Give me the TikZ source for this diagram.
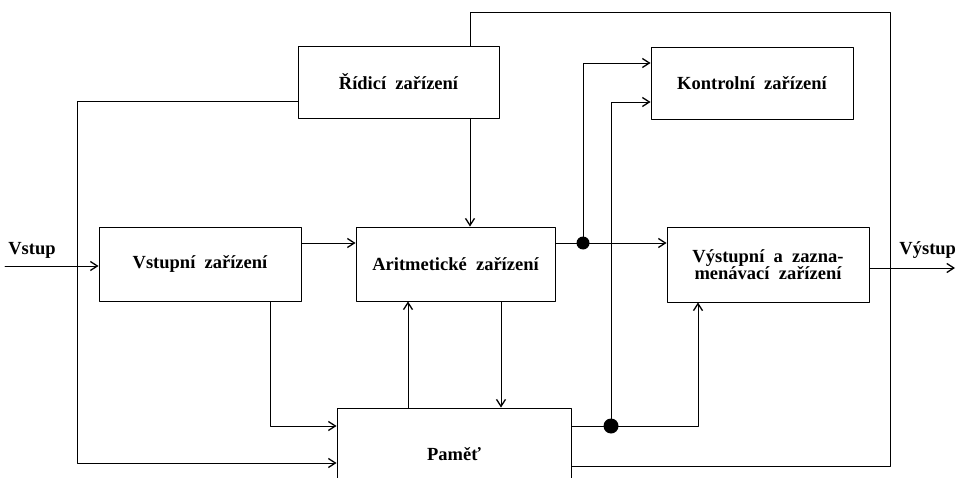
\documentclass[tikz,border=0pt]{standalone}
\usepackage{fontspec}
\setmainfont{Liberation Serif}
\usetikzlibrary{arrows.meta}
\newcommand\blokpismo{\fontsize{18.5}{20}\selectfont\bfseries\spaceskip 0.5em\relax}

\begin{document}
\begin{tikzpicture}[line cap=round,line join=round,x=1pt,y=-1pt,line width=0.9pt,
    >={Straight Barb[length=7pt,width=9pt,line width=1.3pt]},
    blok/.style={draw,line width=0.9pt,align=center,inner sep=0pt,font=\blokpismo},
    popis/.style={font=\fontsize{18.5}{20}\selectfont\bfseries,inner sep=0pt}]
  \useasboundingbox (0,0) rectangle (957,478);
  \clip (0,0) rectangle (957,478);
  % bloky
  \node[blok,minimum width=201pt,minimum height=72pt] (rid) at (398.5,82) {Řídicí zařízení};
  \node[blok,minimum width=202pt,minimum height=72pt] (kontr) at (752,83) {Kontrolní zařízení};
  \node[blok,minimum width=202pt,minimum height=74pt] (vstz) at (200,264) {Vstupní zařízení};
  \node[blok,minimum width=199pt,minimum height=74pt] (arit) at (455.5,264) {Aritmetické zařízení};
  \node[blok,minimum width=202pt,minimum height=75pt] (vystz) at (768,264.5) {Výstupní a zazna-\\[-3pt]menávací zařízení};
  \node[blok,minimum width=234pt,minimum height=92pt] (pamet) at (454,454) {Paměť};
  % vstup a vystup
  \node[popis] (vstup) at (32,250) {Vstup};
  \node[popis,anchor=west] (vystup) at (899,250) {Výstup};
  \coordinate (vin) at (5,266);
  \draw[->] (vin) -- (vin -| vstz.west);
  \draw[->] (vystz.east |- 0,268) -- (955,268);
  % rizeni
  \coordinate (lk) at (77,101);
  \draw[->] (rid.west |- lk) -- (lk) |- (pamet.west |- 0,463);
  \draw (470,0 |- rid.north) |- (890,12) |- (pamet.east |- 0,466);
  \draw[->] (470,0 |- rid.south) -- (470,0 |- arit.north);
  % datove cesty
  \draw[->] (vstz.east |- 0,243) -- (arit.west |- 0,243);
  \draw[->] (270,0 |- vstz.south) |- (pamet.west |- 0,426);
  \draw[->] (408,0 |- pamet.north) -- (408,0 |- arit.south);
  \draw[->] (501,0 |- arit.south) -- (501,0 |- pamet.north);
  % rozvetveni
  \coordinate (d1) at (583,243);
  \coordinate (d2) at (611,426);
  \draw[->] (arit.east |- d1) -- (vystz.west |- d1);
  \draw[->] (d1) |- (kontr.west |- 0,63);
  \draw[->] (pamet.east |- d2) -| (698,0 |- vystz.south);
  \draw[->] (d2) |- (kontr.west |- 0,102);
  \fill (d1) circle (6.5pt);
  \fill (d2) circle (7.5pt);
\end{tikzpicture}
\end{document}
